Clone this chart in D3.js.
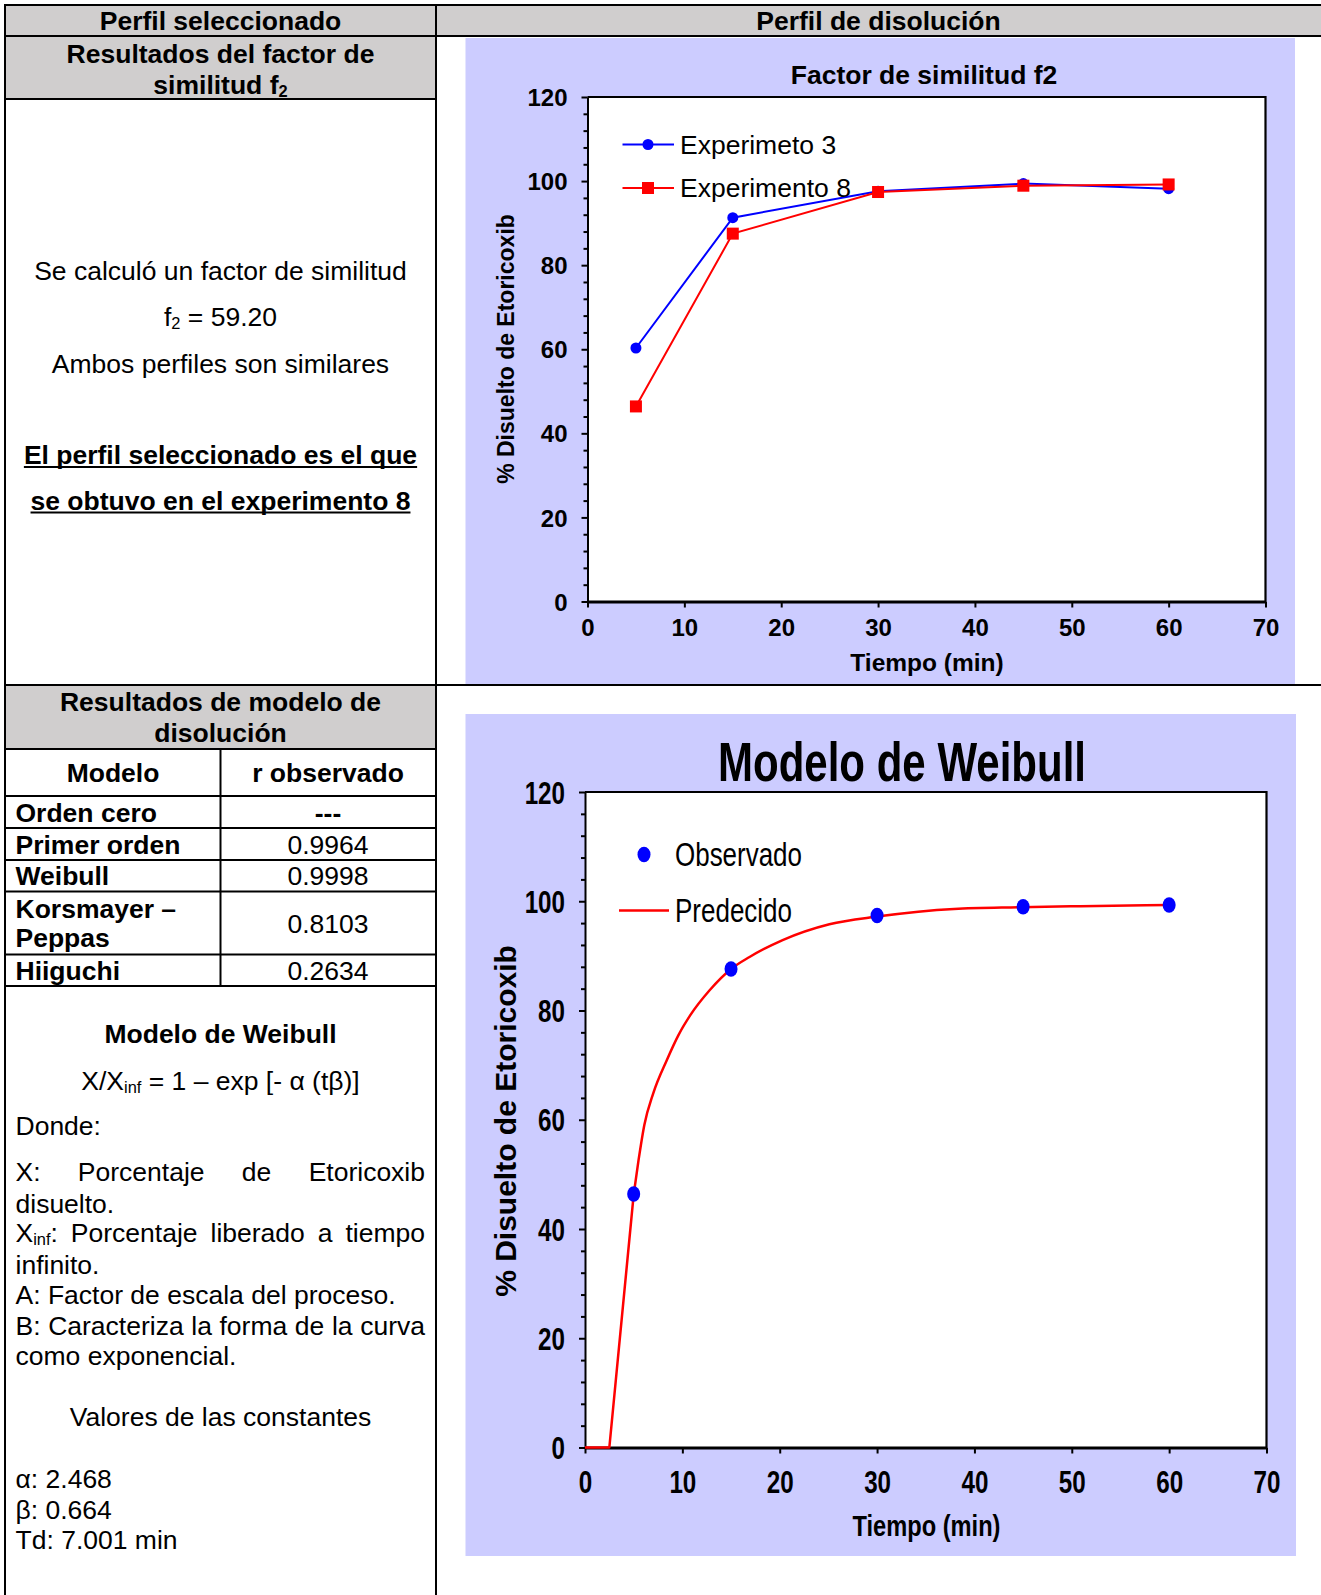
<!DOCTYPE html>
<html>
<head>
<meta charset="utf-8">
<script src="https://cdn.jsdelivr.net/npm/d3@7"></script>
<style>
  body { margin: 0; background: #ffffff; }
  svg { display: block; font-family: "Liberation Sans", Arial, Helvetica, sans-serif; }
</style>
</head>
<body>
<svg id="page" width="1321" height="1595"></svg>
<script>
// ---- Dissolution data (% dissolved vs time in minutes) ----
const sampleTimes     = [5, 15, 30, 45, 60];
const exp3Values      = [60.3, 91.3, 97.6, 99.4, 98.2];
const exp8Values      = [46.4, 87.5, 97.4, 98.9, 99.2];
const observedValues  = [46.4, 87.6, 97.4, 99.0, 99.3];
const predictedTimes  = [0, 2.5, 5, 5.5, 6.1, 7, 8.4, 9.6, 10.8, 12.8, 15, 16.9, 20.3, 25.1, 30, 37.9, 44.7, 50.9, 60];
const predictedValues = [0, 0, 46.3, 52.6, 59.1, 64.8, 70.9, 75.5, 79.1, 83.7, 87.6, 89.8, 92.9, 95.8, 97.2, 98.6, 98.9, 99.1, 99.3];
const seriesNames     = ["Experimeto 3", "Experimento 8"];
const weibullLegend   = ["Observado", "Predecido"];

// ---- Axis ticks ----
const xTickValues  = [0, 10, 20, 30, 40, 50, 60, 70];
const yTickValues  = [0, 20, 40, 60, 80, 100, 120];
const yMinorValues = [4, 8, 12, 16, 24, 28, 32, 36, 44, 48, 52, 56, 64, 68, 72, 76, 84, 88, 92, 96, 104, 108, 112, 116];

// ---- Model fit table ----
const modelNames  = [["Orden cero"], ["Primer orden"], ["Weibull"], ["Korsmayer \u2013", "Peppas"], ["Hiiguchi"]];
const modelRValues = ["---", "0.9964", "0.9998", "0.8103", "0.2634"];

const svg = d3.select("#page");
const FS = 26.5;           // body text size
const GRAY = "#d0cece";
const LAV = "#ccccff";

svg.append("rect").attr("width", 1321).attr("height", 1595).attr("fill", "#fff");

// ---------------- Table frame ----------------
const table = svg.append("g");
table.append("rect").attr("x", 5).attr("y", 5).attr("width", 1316).attr("height", 31).attr("fill", GRAY);
table.append("rect").attr("x", 5).attr("y", 36).attr("width", 431).attr("height", 63).attr("fill", GRAY);
table.append("rect").attr("x", 5).attr("y", 685).attr("width", 431).attr("height", 64).attr("fill", GRAY);

// chart panels
svg.append("rect").attr("x", 465.5).attr("y", 38).attr("width", 829.5).attr("height", 646).attr("fill", LAV);
svg.append("rect").attr("x", 465.5).attr("y", 714).attr("width", 830.5).attr("height", 842).attr("fill", LAV);

const hLines = [[5, 1321, 5], [5, 1321, 36], [5, 436, 99], [5, 1321, 685], [5, 436, 749],
                [5, 436, 796], [5, 436, 828], [5, 436, 860], [5, 436, 891.5], [5, 436, 954.5], [5, 436, 986]];
hLines.forEach(([x1, x2, y]) => table.append("line").attr("x1", x1).attr("x2", x2).attr("y1", y).attr("y2", y)
  .attr("stroke", "#000").attr("stroke-width", 2));
const vLines = [[5, 4, 1595], [436, 4, 1595], [220.5, 749, 986]];
vLines.forEach(([x, y1, y2]) => table.append("line").attr("x1", x).attr("x2", x).attr("y1", y1).attr("y2", y2)
  .attr("stroke", "#000").attr("stroke-width", 2));

// ---------------- Text helpers ----------------
// parts: list of [string, isSubscript]
function addText(x, y, parts, opts = {}) {
  const t = svg.append("text").attr("x", x).attr("y", y)
    .attr("font-size", opts.size || FS)
    .attr("font-weight", opts.bold ? "bold" : "normal")
    .attr("text-anchor", opts.anchor || "start")
    .attr("fill", "#000");
  if (typeof parts === "string") parts = [[parts]];
  let lowered = false;
  parts.forEach(([s, sub]) => {
    const ts = t.append("tspan").text(s);
    if (sub) { ts.attr("font-size", "0.62em").attr("dy", 3); lowered = true; }
    else if (lowered) { ts.attr("dy", -3); lowered = false; }
  });
  return t;
}

function underline(t, offset = 3) {
  const bb = t.node().getBBox();
  const y = +t.attr("y") + offset;
  svg.append("line").attr("x1", bb.x).attr("x2", bb.x + bb.width).attr("y1", y).attr("y2", y)
    .attr("stroke", "#000").attr("stroke-width", 2);
}

// justified line: words spread from x0 to x1
function justified(x0, x1, y, words) {
  const nodes = words.map(w => addText(0, y, w));
  const widths = nodes.map(n => n.node().getComputedTextLength());
  const total = d3.sum(widths);
  const gap = (x1 - x0 - total) / (words.length - 1);
  let x = x0;
  nodes.forEach((n, i) => { n.attr("x", x); x += widths[i] + gap; });
}

const CX = 220.5;

// ---------------- Left column, upper block ----------------
addText(CX, 30, "Perfil seleccionado", { bold: true, anchor: "middle" });
addText(878.5, 30, "Perfil de disoluci\u00f3n", { bold: true, anchor: "middle" });
addText(CX, 62.5, "Resultados del factor de", { bold: true, anchor: "middle" });
addText(CX, 94, [["similitud f"], ["2", true]], { bold: true, anchor: "middle" });

addText(CX, 280, "Se calcul\u00f3 un factor de similitud", { anchor: "middle" });
addText(CX, 325.5, [["f"], ["2", true], [" = 59.20"]], { anchor: "middle" });
addText(CX, 372.5, "Ambos perfiles son similares", { anchor: "middle" });
underline(addText(CX, 464, "El perfil seleccionado es el que", { bold: true, anchor: "middle" }));
underline(addText(CX, 509.5, "se obtuvo en el experimento 8", { bold: true, anchor: "middle" }));

// ---------------- Model table ----------------
addText(CX, 711, "Resultados de modelo de", { bold: true, anchor: "middle" });
addText(CX, 741.5, "disoluci\u00f3n", { bold: true, anchor: "middle" });
addText(113, 782, "Modelo", { bold: true, anchor: "middle" });
addText(328, 782, "r observado", { bold: true, anchor: "middle" });

const rowEdges = [796, 828, 860, 891.5, 954.5, 986];
modelNames.forEach((lines, i) => {
  const mid = (rowEdges[i] + rowEdges[i + 1]) / 2;
  if (lines.length === 1) {
    addText(15.5, mid + 9.5, lines[0], { bold: true });
  } else {
    addText(15.5, mid - 5.5, lines[0], { bold: true });
    addText(15.5, mid + 23.5, lines[1], { bold: true });
  }
  addText(328, mid + 9.5, modelRValues[i], { bold: i === 0, anchor: "middle" });
});

// ---------------- Left column, Weibull description ----------------
const L0 = 15.5, L1 = 425;
addText(CX, 1042.5, "Modelo de Weibull", { bold: true, anchor: "middle" });
addText(CX, 1089.5, [["X/X"], ["inf", true], [" = 1 \u2013 exp [- \u03b1 (t\u03b2)]"]], { anchor: "middle" });
addText(L0, 1135, "Donde:");
justified(L0, L1, 1181, [[["X:"]], [["Porcentaje"]], [["de"]], [["Etoricoxib"]]]);
addText(L0, 1212.5, "disuelto.");
justified(L0, L1, 1242, [[["X"], ["inf", true], [":"]], [["Porcentaje"]], [["liberado"]], [["a"]], [["tiempo"]]]);
addText(L0, 1273.5, "infinito.");
addText(L0, 1304, "A: Factor de escala del proceso.");
justified(L0, L1, 1334.5, [[["B:"]], [["Caracteriza"]], [["la"]], [["forma"]], [["de"]], [["la"]], [["curva"]]]);
addText(L0, 1365, "como exponencial.");
addText(CX, 1426, "Valores de las constantes", { anchor: "middle" });
addText(L0, 1488, "\u03b1: 2.468");
addText(L0, 1518.5, "\u03b2: 0.664");
addText(L0, 1549, "Td: 7.001 min");

// ---------------- Chart 1: Factor de similitud f2 ----------------
{
  const x = d3.scaleLinear().domain([0, 70]).range([587.5, 1265.5]);
  const y = d3.scaleLinear().domain([0, 120]).range([601.5, 97]);
  const g = svg.append("g");
  g.append("rect").attr("x", x(0)).attr("y", y(120)).attr("width", x(70) - x(0)).attr("height", y(0) - y(120)).attr("fill", "#fff");

  // minor ticks
  g.append("g").attr("transform", `translate(${x(0)},0)`)
    .call(d3.axisLeft(y).tickValues(yMinorValues).tickSize(4).tickFormat(""))
    .call(a => a.select(".domain").remove())
    .selectAll("line").attr("stroke", "#000").attr("stroke-width", 2);

  const ya = g.append("g").attr("transform", `translate(${x(0)},0)`)
    .call(d3.axisLeft(y).tickValues(yTickValues).tickSize(6).tickSizeOuter(0).tickPadding(14));
  ya.select(".domain").attr("stroke-width", 2);
  ya.selectAll(".tick line").attr("stroke-width", 2);
  ya.selectAll("text").attr("font-size", 24).attr("font-weight", "bold").attr("font-family", null)
    .attr("dy", "0.36em").attr("fill", "#000");

  const xa = g.append("g").attr("transform", `translate(0,${y(0)})`)
    .call(d3.axisBottom(x).tickValues(xTickValues).tickSize(6).tickSizeOuter(0));
  xa.select(".domain").attr("stroke-width", 3);
  xa.selectAll(".tick line").attr("stroke-width", 2);
  xa.selectAll("text").attr("font-size", 24).attr("font-weight", "bold").attr("font-family", null)
    .attr("y", 34).attr("dy", null).attr("fill", "#000");

  // top and right frame
  g.append("path").attr("d", `M${x(0)},${y(120)}H${x(70)}V${y(0)}`).attr("fill", "none")
    .attr("stroke", "#000").attr("stroke-width", 2.2);

  addText(924, 84, "Factor de similitud f2", { bold: true, anchor: "middle" });
  svg.append("text").attr("transform", "translate(513.6,349) rotate(-90)")
    .attr("text-anchor", "middle").attr("font-size", 23).attr("font-weight", "bold")
    .text("% Disuelto de Etoricoxib");
  addText(927, 670.5, "Tiempo (min)", { bold: true, anchor: "middle", size: 24.5 });

  const line = d3.line().x((d, i) => x(sampleTimes[i])).y(d => y(d));
  const colors = ["#0000ff", "#ff0000"];
  [exp3Values, exp8Values].forEach((vals, k) => {
    g.append("path").datum(vals).attr("d", line).attr("fill", "none")
      .attr("stroke", colors[k]).attr("stroke-width", 2);
  });
  g.selectAll(".dot3").data(exp3Values).join("circle")
    .attr("cx", (d, i) => x(sampleTimes[i])).attr("cy", d => y(d)).attr("r", 5.5).attr("fill", colors[0]);
  g.selectAll(".sq8").data(exp8Values).join("rect")
    .attr("x", (d, i) => x(sampleTimes[i]) - 6).attr("y", d => y(d) - 6)
    .attr("width", 12).attr("height", 12).attr("fill", colors[1]);

  // legend
  const ly = [144.5, 188];
  ly.forEach((yy, k) => {
    g.append("line").attr("x1", 622.5).attr("x2", 674).attr("y1", yy).attr("y2", yy)
      .attr("stroke", colors[k]).attr("stroke-width", 2);
    if (k === 0) g.append("circle").attr("cx", 648).attr("cy", yy).attr("r", 5.5).attr("fill", colors[0]);
    else g.append("rect").attr("x", 642).attr("y", yy - 6).attr("width", 12).attr("height", 12).attr("fill", colors[1]);
    addText(680, yy + 9, seriesNames[k]);
  });
}

// ---------------- Chart 2: Modelo de Weibull ----------------
function condense(sel, factor) {
  sel.each(function () {
    const w = this.getComputedTextLength();
    this.setAttribute("textLength", w * factor);
    this.setAttribute("lengthAdjust", "spacingAndGlyphs");
  });
}
function condenseTo(t, width) {
  t.attr("textLength", width).attr("lengthAdjust", "spacingAndGlyphs");
}
{
  const x = d3.scaleLinear().domain([0, 70]).range([585, 1266.5]);
  const y = d3.scaleLinear().domain([0, 120]).range([1447.5, 792]);
  const g = svg.append("g");
  g.append("rect").attr("x", x(0)).attr("y", y(120)).attr("width", x(70) - x(0)).attr("height", y(0) - y(120)).attr("fill", "#fff");

  g.append("g").attr("transform", `translate(${x(0)},0)`)
    .call(d3.axisLeft(y).tickValues(yMinorValues).tickSize(4).tickFormat(""))
    .call(a => a.select(".domain").remove())
    .selectAll("line").attr("stroke", "#000").attr("stroke-width", 2);

  const ya = g.append("g").attr("transform", `translate(${x(0)},0)`)
    .call(d3.axisLeft(y).tickValues(yTickValues).tickSize(6).tickSizeOuter(0).tickPadding(14));
  ya.select(".domain").attr("stroke-width", 2);
  ya.selectAll(".tick line").attr("stroke-width", 2);
  ya.selectAll("text").attr("font-size", 31).attr("font-weight", "bold").attr("font-family", null)
    .attr("dy", "0.36em").attr("fill", "#000");
  condense(ya.selectAll("text"), 0.78);

  const xa = g.append("g").attr("transform", `translate(0,${y(0)})`)
    .call(d3.axisBottom(x).tickValues(xTickValues).tickSize(6).tickSizeOuter(0));
  xa.select(".domain").attr("stroke-width", 3);
  xa.selectAll(".tick line").attr("stroke-width", 2);
  xa.selectAll("text").attr("font-size", 31).attr("font-weight", "bold").attr("font-family", null)
    .attr("y", 45).attr("dy", null).attr("fill", "#000");
  condense(xa.selectAll("text"), 0.78);

  g.append("path").attr("d", `M${x(0)},${y(120)}H${x(70)}V${y(0)}`).attr("fill", "none")
    .attr("stroke", "#000").attr("stroke-width", 2.2);

  condenseTo(addText(902, 781, "Modelo de Weibull", { bold: true, anchor: "middle", size: 55 }), 368);
  svg.append("text").attr("transform", "translate(515.7,1121) rotate(-90)")
    .attr("text-anchor", "middle").attr("font-size", 30).attr("font-weight", "bold")
    .text("% Disuelto de Etoricoxib");
  condenseTo(addText(926.5, 1536, "Tiempo (min)", { bold: true, anchor: "middle", size: 30 }), 148);

  // fitted Weibull curve: straight lag segment up to the first sample, smooth afterwards
  const pts = predictedTimes.map((t, i) => [t, predictedValues[i]]);
  const lagPart = pts.slice(0, 3);
  const risePart = pts.slice(2);
  const straight = d3.line().x(d => x(d[0])).y(d => y(d[1]));
  const smooth = d3.line().x(d => x(d[0])).y(d => y(d[1])).curve(d3.curveMonotoneX);
  g.append("path").attr("d", straight(lagPart)).attr("fill", "none")
    .attr("stroke", "#ff0000").attr("stroke-width", 2.5).attr("stroke-linejoin", "round");
  g.append("path").attr("d", smooth(risePart)).attr("fill", "none")
    .attr("stroke", "#ff0000").attr("stroke-width", 2.5).attr("stroke-linejoin", "round");

  g.selectAll(".obs").data(observedValues).join("ellipse")
    .attr("cx", (d, i) => x(sampleTimes[i])).attr("cy", d => y(d)).attr("rx", 6.5).attr("ry", 7.8)
    .attr("fill", "#0000ff");

  // legend
  g.append("ellipse").attr("cx", 644).attr("cy", 854.5).attr("rx", 6.5).attr("ry", 7.8).attr("fill", "#0000ff");
  g.append("line").attr("x1", 619).attr("x2", 669).attr("y1", 910.5).attr("y2", 910.5)
    .attr("stroke", "#ff0000").attr("stroke-width", 2.5);
  condenseTo(addText(675, 866, weibullLegend[0], { size: 32.5 }), 127);
  condenseTo(addText(675, 922, weibullLegend[1], { size: 32.5 }), 117);
}
</script>
</body>
</html>
